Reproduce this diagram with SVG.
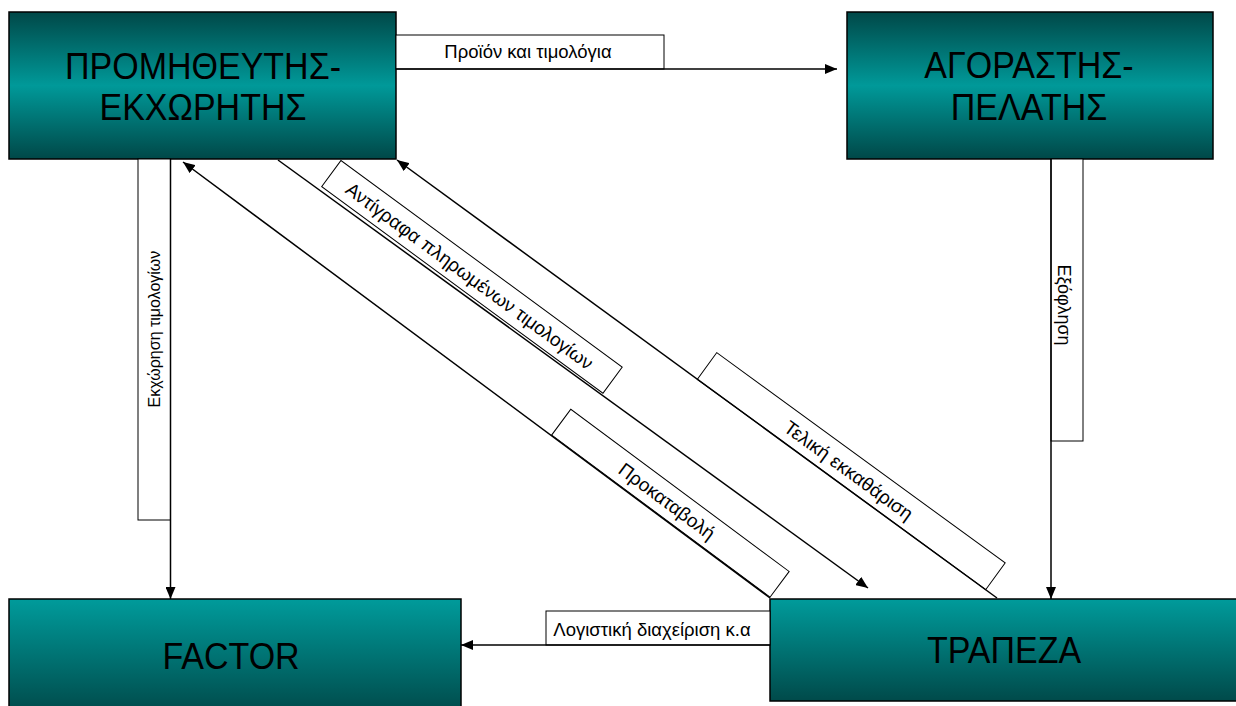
<svg xmlns="http://www.w3.org/2000/svg" width="1236" height="706" viewBox="0 0 1236 706">
  <defs>
    <!-- teal shading: dark edges, bright band across the middle -->
    <linearGradient id="tealBand" x1="0" y1="0" x2="0" y2="1">
      <stop offset="0" stop-color="#004848"/>
      <stop offset="0.5" stop-color="#009999"/>
      <stop offset="1" stop-color="#004848"/>
    </linearGradient>
    <!-- teal shading: bright top fading to dark bottom -->
    <linearGradient id="tealFall" x1="0" y1="0" x2="0" y2="1">
      <stop offset="0" stop-color="#009b9b"/>
      <stop offset="1" stop-color="#004a4a"/>
    </linearGradient>
    <marker id="arrow" viewBox="0 0 12 10" refX="12" refY="5" markerWidth="12" markerHeight="10" markerUnits="userSpaceOnUse" orient="auto">
      <path d="M0,0 L12,5 L0,10 z" fill="#000"/>
    </marker>
    <style>
      .box { stroke: #000; stroke-width: 1.5; }
      .boxText { font-family: "Liberation Sans", Arial, sans-serif; font-size: 34px; fill: #000; text-anchor: middle; }
      .flow { stroke: #000; stroke-width: 1.5; fill: none; marker-end: url(#arrow); }
      .tag { fill: #fff; stroke: #000; stroke-width: 1; }
      .tagText { font-family: "Liberation Sans", Arial, sans-serif; font-size: 18.5px; fill: #000; text-anchor: middle; }
      .tagDiag { font-size: 19px; }
    </style>
  </defs>

  <rect width="1236" height="706" fill="#fff"/>

  <!-- parties -->
  <g id="supplier">
    <rect class="box" x="9" y="12" width="387" height="147" fill="url(#tealBand)"/>
    <text class="boxText" transform="translate(203,79) scale(1,1.1)">ΠΡΟΜΗΘΕΥΤΗΣ-</text>
    <text class="boxText" transform="translate(203,120) scale(1,1.1)">ΕΚΧΩΡΗΤΗΣ</text>
  </g>

  <g id="buyer">
    <rect class="box" x="847" y="12" width="366" height="147" fill="url(#tealBand)"/>
    <text class="boxText" transform="translate(1029,78) scale(1,1.1)">ΑΓΟΡΑΣΤΗΣ-</text>
    <text class="boxText" transform="translate(1029,120) scale(1,1.1)">ΠΕΛΑΤΗΣ</text>
  </g>

  <g id="factor">
    <rect class="box" x="9" y="599" width="452" height="115" fill="url(#tealFall)"/>
    <text class="boxText" transform="translate(231,669) scale(1,1.08)">FACTOR</text>
  </g>

  <g id="bank">
    <rect class="box" x="770" y="599" width="480" height="102" fill="url(#tealFall)"/>
    <text class="boxText" transform="translate(1004,663) scale(1,1.08)">ΤΡΑΠΕΖΑ</text>
  </g>

  <!-- flows between the parties, each with its caption tag -->
  <g id="connectors">
    <!-- goods and invoices: supplier to buyer -->
    <rect class="tag" x="396" y="35" width="268" height="34"/>
    <text class="tagText" x="528" y="58">Προϊόν και τιμολόγια</text>
    <line class="flow" x1="396" y1="69" x2="837" y2="69"/>

    <!-- assignment of invoices: supplier to factor -->
    <rect class="tag" x="138" y="159" width="32.5" height="361"/>
    <text class="tagText" style="font-size:16px" transform="translate(160,329) rotate(-90)" x="0" y="0">Εκχώρηση τιμολογίων</text>
    <line class="flow" x1="170.5" y1="159" x2="170.5" y2="599"/>

    <!-- settlement: buyer to bank -->
    <rect class="tag" x="1051" y="159" width="32" height="282"/>
    <text class="tagText" style="font-size:18px" transform="translate(1058,305) rotate(90)" x="0" y="0">Εξόφληση</text>
    <line class="flow" x1="1051" y1="159" x2="1051" y2="599"/>

    <!-- accounting: bank to factor -->
    <rect class="tag" x="546" y="611" width="224" height="34"/>
    <text class="tagText" x="652" y="636">Λογιστική διαχείριση κ.α</text>
    <line class="flow" x1="770" y1="645" x2="461" y2="645"/>

    <!-- advance payment: bank to supplier -->
    <g transform="translate(551.7,435) rotate(36.6)">
      <rect class="tag" x="0" y="-32" width="272" height="32"/>
      <text class="tagText tagDiag" x="132" y="-9">Προκαταβολή</text>
    </g>
    <line class="flow" x1="770" y1="598" x2="183" y2="162"/>

    <!-- copies of paid invoices: supplier to bank -->
    <g transform="translate(321.7,186.7) rotate(36.3)">
      <rect class="tag" x="0" y="-32.5" width="349" height="32.5"/>
      <text class="tagText tagDiag" x="172" y="-9">Αντίγραφα πληρωμένων τιμολογίων</text>
    </g>
    <line class="flow" x1="278" y1="160" x2="868" y2="588"/>

    <!-- final clearing: bank to supplier -->
    <g transform="translate(697.3,379.3) rotate(36.1)">
      <rect class="tag" x="0" y="-33" width="357" height="33"/>
      <text class="tagText tagDiag" x="176" y="-9">Τελική εκκαθάριση</text>
    </g>
    <line class="flow" x1="997" y1="598" x2="397" y2="160"/>
  </g>
</svg>
